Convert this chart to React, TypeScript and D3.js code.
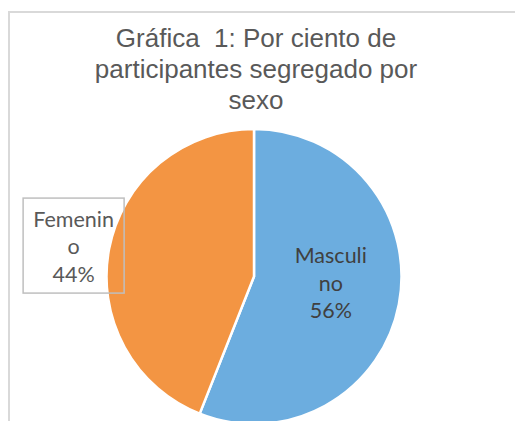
import React from "react";
import * as d3 from "d3";

const width = 515;
const height = 421;

// data
const categories = ["Masculino", "Femenino"];
const values = [56, 44];
const labelLines = [
  ["Masculi", "no", "56%"],
  ["Femenin", "o", "44%"],
];
const colors = ["#6CADDF", "#F39543"];
const titleLines = ["Gráfica  1: Por ciento de", "participantes segregado por", "sexo"];

const cx = 254;
const cy = 276.5;
const radius = 147.5;

export default function App() {
  const pie = d3
    .pie<number>()
    .sort(null)
    .value((d) => d);
  const arcs = pie(values);

  const arc = d3.arc<d3.PieArcDatum<number>>().innerRadius(0).outerRadius(radius);
  // label positions: inside for the first slice, moved outside for the second
  const insideArc = d3
    .arc<d3.PieArcDatum<number>>()
    .innerRadius(radius * 1.06)
    .outerRadius(0);
  const outsideArc = d3
    .arc<d3.PieArcDatum<number>>()
    .innerRadius(radius * 1.245)
    .outerRadius(radius * 1.245);

  const lineH = 27.5;
  const labelShift = [-9, 3.5]; // excel nudges the labels a bit
  const labelFill = ["#404040", "#595959"];

  return (
    <svg
      width={width}
      height={height}
      style={{ position: "absolute", left: 0, top: 0, background: "#fff" }}
    >
      <rect x={9} y={12} width={600} height={500} fill="#fff" stroke="#d9d9d9" strokeWidth={2} />

      <g fontFamily="'Liberation Sans', Arial, sans-serif" fontSize={26} fill="#595959" textAnchor="middle">
        {titleLines.map((t, i) => (
          <text key={i} x={256} y={46.5 + i * 31} style={{ whiteSpace: "pre" }}>
            {t}
          </text>
        ))}
      </g>

      <g transform={`translate(${cx},${cy})`}>
        {arcs.map((a, i) => (
          <path key={categories[i]} d={arc(a) || ""} fill={colors[i]} stroke="#fff" strokeWidth={2.5} />
        ))}

        {arcs.map((a, i) => {
          const [lx, ly] = i === 0 ? insideArc.centroid(a) : outsideArc.centroid(a);
          const lines = labelLines[i];
          return (
            <g key={"l" + i} transform={`translate(${lx},${ly + labelShift[i]})`}>
              {i === 1 && (
                <rect x={-50.5} y={-47.5} width={101} height={95} fill="none" stroke="#bfbfbf" strokeWidth={1.5} />
              )}
              {lines.map((t, j) => (
                <text
                  key={j}
                  x={0}
                  y={(j - 1) * lineH + 8.5}
                  textAnchor="middle"
                  fontFamily="Lato, 'Open Sans', sans-serif"
                  fontSize={21.5}
                  fill={labelFill[i]}
                >
                  {t}
                </text>
              ))}
            </g>
          );
        })}
      </g>
    </svg>
  );
}
